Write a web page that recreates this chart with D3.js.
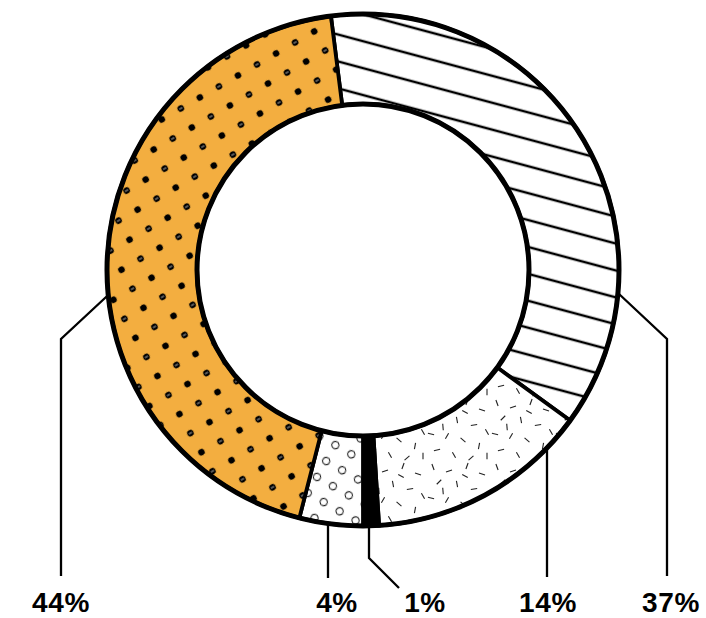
<!DOCTYPE html>
<html>
<head>
<meta charset="utf-8">
<script src="https://cdn.jsdelivr.net/npm/d3@7"></script>
<style>
  html, body { margin: 0; padding: 0; background: #fff; }
  svg { display: block; }
</style>
</head>
<body>
<svg id="chart" width="706" height="618"></svg>
<script>
// Share of each category, listed clockwise from the top of the ring
const categories = ["striped", "speckled", "solid", "circles", "dotted"];
const shares = [37, 14, 1, 4, 44];
const labels = ["37%", "14%", "1%", "4%", "44%"];

const W = 706, H = 618;
const cx = 363, cy = 270;
const outerR = 256, innerR = 166;
const startOffset = -0.02 * 2 * Math.PI;

const svg = d3.select("#chart");
const defs = svg.append("defs");

// ---- fill patterns ----
// diagonal stripes
const stripe = defs.append("pattern")
  .attr("id", "pat-striped").attr("patternUnits", "userSpaceOnUse")
  .attr("width", 40).attr("height", 26)
  .attr("patternTransform", "rotate(15)");
stripe.append("rect").attr("width", 40).attr("height", 26).attr("fill", "#fff");
stripe.append("line").attr("x1", 0).attr("x2", 40).attr("y1", 13).attr("y2", 13)
  .attr("stroke", "#000").attr("stroke-width", 2.4);

// short random dashes
const speck = defs.append("pattern")
  .attr("id", "pat-speckled").attr("patternUnits", "userSpaceOnUse")
  .attr("width", 64).attr("height", 64);
speck.append("rect").attr("width", 64).attr("height", 64).attr("fill", "#fff");
const dashes = [
  [6, 5, 70], [22, 9, 160], [40, 4, 110], [55, 12, 20], [12, 20, 135],
  [30, 22, 80], [47, 27, 170], [60, 34, 60], [4, 36, 15], [20, 38, 120],
  [36, 42, 40], [52, 48, 100], [10, 52, 165], [27, 57, 60], [44, 60, 140],
  [60, 58, 90], [16, 29, 85], [38, 14, 30]
];
dashes.forEach(([x, y, a]) => {
  const r = a * Math.PI / 180, L = 3.2;
  speck.append("line")
    .attr("x1", x - Math.cos(r) * L).attr("y1", y - Math.sin(r) * L)
    .attr("x2", x + Math.cos(r) * L).attr("y2", y + Math.sin(r) * L)
    .attr("stroke", "#222").attr("stroke-width", 1.1);
});

// open small circles
const circ = defs.append("pattern")
  .attr("id", "pat-circles").attr("patternUnits", "userSpaceOnUse")
  .attr("width", 26).attr("height", 26)
  .attr("patternTransform", "rotate(-15)");
circ.append("rect").attr("width", 26).attr("height", 26).attr("fill", "#fff");
[[6, 6], [19, 19]].forEach(([x, y]) => {
  circ.append("circle").attr("cx", x).attr("cy", y).attr("r", 3.6)
    .attr("fill", "none").attr("stroke", "#222").attr("stroke-width", 1.1);
});

// black dots on orange
const dot = defs.append("pattern")
  .attr("id", "pat-dotted").attr("patternUnits", "userSpaceOnUse")
  .attr("width", 44).attr("height", 44)
  .attr("patternTransform", "rotate(-30)");
dot.append("rect").attr("width", 44).attr("height", 44).attr("fill", "#f3ae40");
[[11, 11, false], [33, 11, true], [11, 33, true], [33, 33, false]].forEach(([x, y, marked]) => {
  dot.append("circle").attr("cx", x).attr("cy", y).attr("r", 3.3).attr("fill", "#000");
  if (marked) {
    dot.append("line").attr("x1", x - 1.8).attr("x2", x + 1.8).attr("y1", y).attr("y2", y)
      .attr("stroke", "#fff").attr("stroke-width", 0.7);
  }
});

const fills = {
  striped: "url(#pat-striped)",
  speckled: "url(#pat-speckled)",
  solid: "#000",
  circles: "url(#pat-circles)",
  dotted: "url(#pat-dotted)"
};

// ---- ring ----
const data = categories.map((c, i) => ({ cat: c, value: shares[i], label: labels[i] }));
const pie = d3.pie().value(d => d.value).sort(null)
  .startAngle(startOffset).endAngle(startOffset + 2 * Math.PI);
const arcs = pie(data);
const arc = d3.arc().innerRadius(innerR).outerRadius(outerR);

const g = svg.append("g").attr("transform", `translate(${cx},${cy})`);
g.selectAll("path.slice").data(arcs).join("path")
  .attr("class", "slice")
  .attr("d", arc)
  .attr("fill", d => fills[d.data.cat])
  .attr("stroke", "#000").attr("stroke-width", 3.8)
  .attr("stroke-linejoin", "miter");

g.append("circle").attr("r", outerR).attr("fill", "none").attr("stroke", "#000").attr("stroke-width", 5);
g.append("circle").attr("r", innerR).attr("fill", "none").attr("stroke", "#000").attr("stroke-width", 5);

// ---- leader lines and labels ----
const onOuterLeft = y => cx - Math.sqrt(outerR * outerR - (y - cy) * (y - cy));
const onOuterRight = y => cx + Math.sqrt(outerR * outerR - (y - cy) * (y - cy));
const onOuterBottom = x => cy + Math.sqrt(outerR * outerR - (x - cx) * (x - cx));

const leaders = {
  "37%": { pts: [[onOuterRight(293), 293], [667, 339], [667, 576]], tx: 671 },
  "14%": { pts: [[547, onOuterBottom(547)], [547, 577]], tx: 548 },
  "1%":  { pts: [[369, onOuterBottom(369)], [369, 558], [399, 588]], tx: 425 },
  "4%":  { pts: [[328, onOuterBottom(328)], [328, 578]], tx: 337 },
  "44%": { pts: [[onOuterLeft(295), 295], [61, 339], [61, 576]], tx: 61 }
};

const line = d3.line();
svg.append("g").selectAll("path").data(arcs).join("path")
  .attr("d", d => line(leaders[d.data.label].pts))
  .attr("fill", "none").attr("stroke", "#000").attr("stroke-width", 2.3);

svg.append("g").selectAll("text").data(arcs).join("text")
  .attr("x", d => leaders[d.data.label].tx)
  .attr("y", 612)
  .attr("text-anchor", "middle")
  .attr("font-family", "'Liberation Sans', Arial, Helvetica, sans-serif")
  .attr("font-weight", "bold")
  .attr("font-size", 28)
  .attr("letter-spacing", 0.6)
  .attr("fill", "#000")
  .text(d => d.data.label);
</script>
</body>
</html>
